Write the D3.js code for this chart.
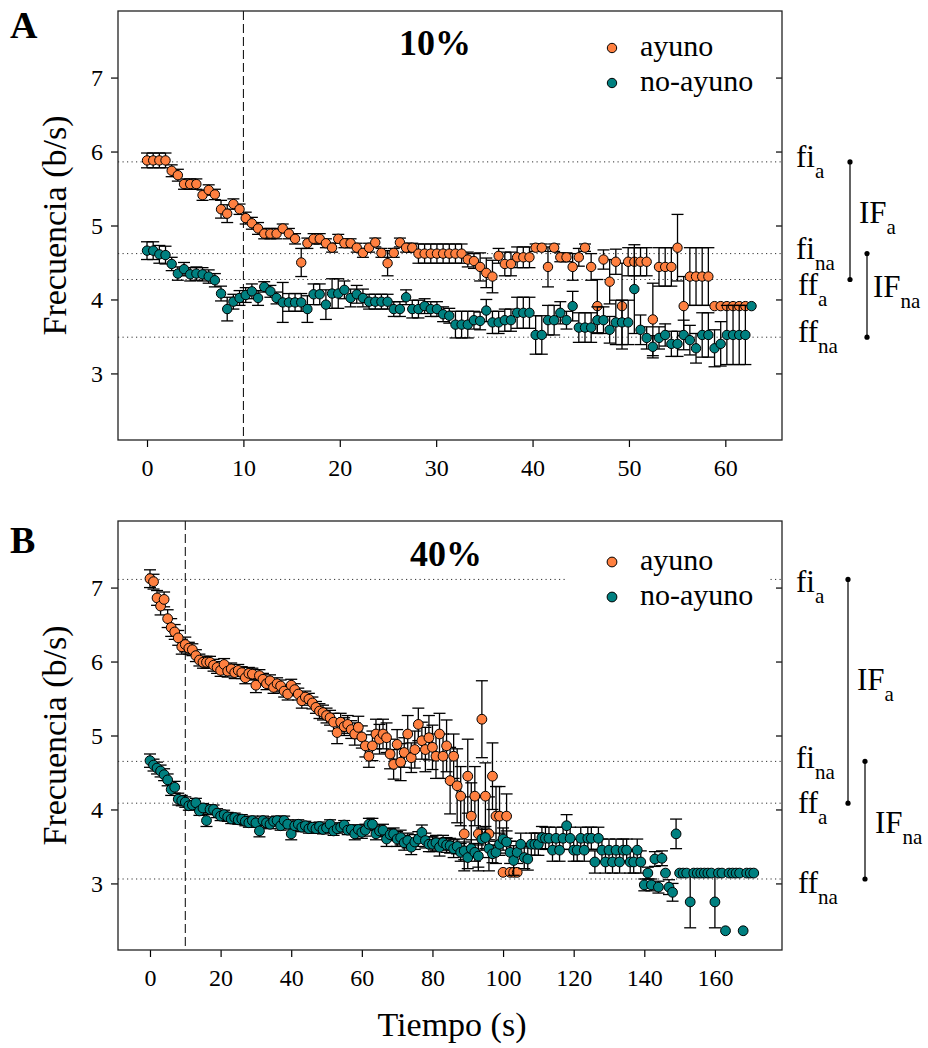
<!DOCTYPE html>
<html>
<head>
<meta charset="utf-8">
<script src="https://cdn.jsdelivr.net/npm/d3@7"></script>
<style>
body { margin: 0; background: #fff; }
text { font-family: "Liberation Serif", "Times New Roman", Times, serif; }
</style>
</head>
<body>
<svg id="chart" width="928" height="1048"></svg>
<script>
// time step between samples (s)
const stepA = 0.64
const stepB = 1

const yTicks = [3, 4, 5, 6, 7]
const xTicksA = [0, 10, 20, 30, 40, 50, 60]
const xTicksB = [0, 20, 40, 60, 80, 100, 120, 140, 160]
const series = ['ayuno', 'no-ayuno']
const titles = ['10%', '40%']
const letters = ['A', 'B']
const refNames = ['fi', 'fi', 'ff', 'ff']
const refSubs = ['a', 'na', 'a', 'na']
const refA = [5.86, 4.62, 4.27, 3.49]
const refB = [7.11, 4.65, 4.085, 3.06]

// panel A (10%)
const ayunoA = [5.88, 5.88, 5.88, 5.88, 5.74, 5.68, 5.56, 5.56, 5.56, 5.41,
    5.48, 5.42, 5.22, 5.16, 5.29, 5.22, 5.10, 5.03, 4.96, 4.89,
    4.89, 4.89, 4.96, 4.89, 4.82, 4.50, 4.76, 4.82, 4.82, 4.76,
    4.70, 4.82, 4.76, 4.76, 4.70, 4.63, 4.70, 4.77, 4.63, 4.49,
    4.63, 4.77, 4.70, 4.70, 4.62, 4.62, 4.62, 4.62, 4.62, 4.62,
    4.62, 4.62, 4.54, 4.52, 4.44, 4.36, 4.31, 4.59, 4.48, 4.48,
    4.57, 4.57, 4.57, 4.70, 4.70, 4.44, 4.70, 4.57, 4.57, 4.44,
    4.57, 4.70, 4.44, 3.91, 4.54, 4.24, 4.51, 3.91, 4.51, 4.51,
    4.51, 4.51, 3.73, 4.44, 4.44, 4.44, 4.70, 3.91, 4.31, 4.31,
    4.31, 4.31, 3.91, 3.91, 3.91, 3.91, 3.91, 3.91]
const ayunoAErr = [0.10, 0.10, 0.10, 0.10, 0.08, 0.08, 0.07, 0.07, 0.07, 0.07,
    0.07, 0.07, 0.12, 0.12, 0.07, 0.07, 0.08, 0.08, 0.08, 0.07,
    0.07, 0.07, 0.06, 0.07, 0.07, 0.19, 0.07, 0.07, 0.07, 0.06,
    0.06, 0.06, 0.06, 0.06, 0.06, 0.06, 0.06, 0.06, 0.06, 0.17,
    0.06, 0.06, 0.06, 0.06, 0.13, 0.13, 0.13, 0.13, 0.13, 0.13,
    0.13, 0.13, 0.10, 0.10, 0.19, 0.20, 0.22, 0.10, 0.16, 0.16,
    0.14, 0.14, 0.14, 0.05, 0.05, 0.27, 0.05, 0.06, 0.06, 0.18,
    0.12, 0.05, 0.18, 0.36, 0.13, 0.30, 0.17, 0.58, 0.19, 0.19,
    0.19, 0.19, 0.49, 0.26, 0.26, 0.26, 0.45, 0.40, 0.39, 0.39,
    0.39, 0.39, 0, 0, 0, 0, 0, 0]
const noAyunoA = [4.66, 4.66, 4.61, 4.60, 4.48, 4.35, 4.41, 4.34, 4.35, 4.34,
    4.31, 4.26, 4.08, 3.87, 3.97, 4.02, 4.06, 4.11, 4.02, 4.17,
    4.11, 4.02, 3.96, 3.96, 3.96, 3.96, 3.87, 4.07, 4.07, 3.93,
    4.08, 4.08, 4.13, 4.02, 4.07, 4.02, 3.97, 3.97, 3.97, 3.97,
    3.87, 3.87, 4.03, 3.87, 3.87, 3.91, 3.87, 3.87, 3.80, 3.78,
    3.66, 3.66, 3.66, 3.72, 3.71, 3.85, 3.69, 3.69, 3.72, 3.72,
    3.82, 3.82, 3.82, 3.52, 3.52, 3.72, 3.72, 3.82, 3.72, 3.91,
    3.62, 3.62, 3.62, 3.72, 3.72, 3.59, 3.69, 3.69, 3.69, 4.14,
    3.59, 3.48, 3.36, 3.48, 3.52, 3.40, 3.40, 3.52, 3.45, 3.34,
    3.52, 3.52, 3.34, 3.40, 3.52, 3.52, 3.52, 3.52, 3.91]
const noAyunoAErr = [0.12, 0.12, 0.12, 0.12, 0.09, 0.09, 0.09, 0.09, 0.09, 0.09,
    0.09, 0.09, 0.10, 0.16, 0.10, 0.10, 0.10, 0.10, 0.10, 0.07,
    0.08, 0.08, 0.27, 0.12, 0.12, 0.12, 0.18, 0.14, 0.14, 0.20,
    0.20, 0.20, 0.12, 0.12, 0.12, 0.12, 0.10, 0.10, 0.10, 0.10,
    0.10, 0.10, 0.10, 0.12, 0.12, 0.10, 0.10, 0.10, 0.10, 0.10,
    0.18, 0.18, 0.18, 0.12, 0.12, 0.15, 0.15, 0.15, 0.15, 0.15,
    0.21, 0.21, 0.21, 0.26, 0.26, 0.20, 0.20, 0.15, 0.12, 0.20,
    0.20, 0.20, 0.20, 0.18, 0.18, 0.18, 0.30, 0.30, 0.30, 0.60,
    0.20, 0.15, 0.15, 0.15, 0.15, 0.17, 0.17, 0.20, 0.20, 0.20,
    0.30, 0.30, 0.25, 0.30, 0.40, 0.40, 0.40, 0.40, 0]

// panel B (40%)
const ayunoB = [7.12, 7.08, 6.86, 6.75, 6.84, 6.58, 6.46, 6.40, 6.32, 6.20,
    6.23, 6.18, 6.16, 6.08, 6.02, 5.99, 5.99, 5.99, 5.95, 5.92,
    5.88, 5.96, 5.87, 5.90, 5.85, 5.88, 5.85, 5.78, 5.84, 5.83,
    5.68, 5.81, 5.76, 5.70, 5.74, 5.65, 5.70, 5.67, 5.60, 5.56,
    5.68, 5.62, 5.56, 5.47, 5.52, 5.49, 5.44, 5.38, 5.33, 5.31,
    5.27, 5.24, 5.18, 5.04, 5.18, 5.12, 5.15, 5.08, 5.02, 5.11,
    4.98, 4.86, 4.72, 4.86, 5.02, 4.95, 5.02, 4.97, 4.75, 4.61,
    4.88, 4.64, 4.77, 5.02, 4.70, 4.81, 5.15, 4.93, 4.81, 4.97,
    4.84, 4.72, 5.02, 4.72, 4.86, 4.39, 4.72, 4.32, 4.18, 3.67,
    4.45, 3.91, 4.18, 3.67, 5.22, 4.18, 3.67, 4.45, 3.91, 3.91,
    3.15, 3.91, 3.15, 3.15, 3.15]
const ayunoBErr = [0.12, 0.10, 0.10, 0.12, 0.10, 0.12, 0.12, 0.10, 0.10, 0.10,
    0.10, 0.08, 0.08, 0.08, 0.08, 0.08, 0.08, 0.08, 0.08, 0.08,
    0.08, 0.08, 0.08, 0.08, 0.08, 0.08, 0.08, 0.08, 0.08, 0.08,
    0.10, 0.08, 0.08, 0.08, 0.08, 0.08, 0.08, 0.08, 0.08, 0.08,
    0.08, 0.08, 0.08, 0.10, 0.08, 0.08, 0.08, 0.08, 0.10, 0.10,
    0.10, 0.10, 0.12, 0.15, 0.12, 0.12, 0.12, 0.12, 0.15, 0.15,
    0.15, 0.15, 0.15, 0.20, 0.20, 0.20, 0.20, 0.20, 0.20, 0.20,
    0.20, 0.25, 0.20, 0.25, 0.20, 0.25, 0.22, 0.25, 0.30, 0.30,
    0.30, 0.30, 0.28, 0.30, 0.35, 0.45, 0.30, 0.50, 0.40, 0.50,
    0.50, 0.45, 0.40, 0.50, 0.52, 0.45, 0.50, 0.45, 0.40, 0.40,
    0, 0.30, 0, 0, 0]
const noAyunoB = [4.66, 4.60, 4.56, 4.52, 4.47, 4.40, 4.27, 4.30, 4.14, 4.12,
    4.10, 4.05, 4.06, 4.09, 3.98, 4.02, 3.85, 4.00, 4.00, 3.95,
    3.91, 3.93, 3.90, 3.87, 3.89, 3.86, 3.87, 3.84, 3.82, 3.85,
    3.82, 3.71, 3.85, 3.82, 3.80, 3.84, 3.85, 3.78, 3.85, 3.80,
    3.67, 3.78, 3.80, 3.76, 3.78, 3.74, 3.76, 3.74, 3.77, 3.73,
    3.75, 3.80, 3.71, 3.74, 3.76, 3.79, 3.72, 3.73, 3.67, 3.73,
    3.69, 3.72, 3.80, 3.80, 3.67, 3.71, 3.72, 3.60, 3.66, 3.67,
    3.60, 3.62, 3.55, 3.58, 3.49, 3.56, 3.60, 3.69, 3.58, 3.53,
    3.53, 3.55, 3.49, 3.55, 3.52, 3.51, 3.47, 3.50, 3.42, 3.44,
    3.35, 3.47, 3.42, 3.37, 3.60, 3.62, 3.47, 3.40, 3.42, 3.53,
    3.60, 3.56, 3.42, 3.31, 3.42, 3.53, 3.35, 3.33, 3.53, 3.53,
    3.53, 3.62, 3.61, 3.61, 3.45, 3.61, 3.45, 3.61, 3.78, 3.61,
    3.45, 3.45, 3.61, 3.45, 3.61, 3.61, 3.29, 3.61, 3.45, 3.29,
    3.45, 3.29, 3.45, 3.29, 3.45, 3.45, 3.29, 3.29, 3.45, 3.29,
    2.98, 3.14, 2.98, 3.33, 2.95, 3.34, 3.14, 2.95, 2.88, 3.67,
    3.14, 3.14, 3.14, 2.75, 3.14, 3.14, 3.14, 3.14, 3.14, 3.14,
    2.75, 3.14, 3.14, 2.36, 3.14, 3.14, 3.14, 3.14, 2.36, 3.14,
    3.14, 3.14]
const noAyunoBErr = [0.09, 0.08, 0.08, 0.08, 0.08, 0.08, 0.08, 0.08, 0.08, 0.07,
    0.07, 0.06, 0.06, 0.06, 0.06, 0.06, 0.08, 0.06, 0.06, 0.06,
    0.06, 0.06, 0.06, 0.06, 0.06, 0.06, 0.06, 0.06, 0.06, 0.06,
    0.06, 0.08, 0.06, 0.06, 0.06, 0.06, 0.06, 0.06, 0.06, 0.06,
    0.08, 0.06, 0.06, 0.06, 0.06, 0.06, 0.06, 0.06, 0.06, 0.06,
    0.06, 0.06, 0.06, 0.06, 0.06, 0.06, 0.06, 0.06, 0.08, 0.06,
    0.08, 0.08, 0.08, 0.08, 0.08, 0.08, 0.08, 0.10, 0.08, 0.08,
    0.10, 0.10, 0.10, 0.10, 0.10, 0.10, 0.10, 0.10, 0.10, 0.10,
    0.10, 0.10, 0.12, 0.10, 0.10, 0.10, 0.12, 0.10, 0.12, 0.12,
    0.15, 0.12, 0.12, 0.15, 0.15, 0.15, 0.12, 0.12, 0.15, 0.15,
    0.15, 0.15, 0.15, 0.20, 0.15, 0.15, 0.15, 0.15, 0.15, 0.15,
    0.15, 0.15, 0.15, 0.15, 0.15, 0.15, 0.15, 0.15, 0.15, 0.15,
    0.15, 0.15, 0.15, 0.15, 0.15, 0.15, 0.15, 0.15, 0.15, 0.15,
    0.15, 0.15, 0.15, 0.15, 0.15, 0.15, 0.15, 0.15, 0.15, 0.15,
    0.08, 0.08, 0.08, 0.10, 0.08, 0.10, 0, 0.10, 0.12, 0.20,
    0, 0, 0, 0.35, 0, 0, 0, 0, 0, 0,
    0.35, 0, 0, 0, 0, 0, 0, 0, 0, 0,
    0, 0]

const SVG = d3.select('#chart')
const Left = 118
const Right = 782
const colors = ['#ff8040', '#008080']
const font = '"Liberation Serif", "Times New Roman", Times, serif'

const panels = [
    {
        top: 11, bottom: 440, xDomain: [-3.01, 65.88], xTicks: xTicksA, step: stepA,
        vals: [ayunoA, noAyunoA], errs: [ayunoAErr, noAyunoAErr], refs: refA, r: 4.7,
        legendY: 37, titleX: 435, titleY: 44, letterY: 38,
        labelDy: [5, 5, 15.5, 4.5], brX: [850, 867], ifDy: [2.6, 1.3], ifX: [859, 873],
        legendBox: false
    },
    {
        top: 521, bottom: 950, xDomain: [-9.06, 179.0], xTicks: xTicksB, step: stepB,
        vals: [ayunoB, noAyunoB], errs: [ayunoBErr, noAyunoBErr], refs: refB, r: 4.9,
        legendY: 41, titleX: 446, titleY: 45, letterY: 553,
        labelDy: [13, 7, 10, 14], brX: [848, 865], ifDy: [-1, 13], ifX: [857, 875],
        legendBox: true
    }
]

panels.forEach((p, n) => {
    const x = d3.scaleLinear().domain(p.xDomain).range([Left, Right])
    const y = d3.scaleLinear().domain([2.1, 7.9]).range([p.bottom, p.top])
    const g = SVG.append('g')

    // reference dotted lines
    p.refs.forEach(v => {
        g.append('line')
            .attr('x1', Left).attr('x2', Right)
            .attr('y1', y(v)).attr('y2', y(v))
            .attr('stroke', '#333').attr('stroke-width', 1)
            .attr('stroke-dasharray', '1.2,3.3')
    })

    // vertical dashed line at 10 s
    g.append('line')
        .attr('x1', x(10)).attr('x2', x(10))
        .attr('y1', p.top).attr('y2', p.bottom)
        .attr('stroke', '#000').attr('stroke-width', 1)
        .attr('stroke-dasharray', '9,4')

    // legend (white box hides dotted line behind it)
    const ly = p.top + p.legendY
    if (p.legendBox) {
        g.append('rect').attr('x', 566).attr('y', ly - 20).attr('width', 204).attr('height', 58)
            .attr('fill', '#fff')
    }
    series.forEach((s, k) => {
        g.append('circle').attr('cx', 612).attr('cy', ly + k * 35).attr('r', p.r)
            .attr('fill', colors[k]).attr('stroke', '#000').attr('stroke-width', 1)
        g.append('text').text(s).attr('x', 640).attr('y', ly + k * 35 + 8)
            .style('font-size', '30px')
    })

    // axes
    const left = g.append('g').attr('transform', `translate(${Left},0)`)
        .call(d3.axisLeft(y).tickValues(yTicks).tickSize(7).tickPadding(8).tickFormat(d3.format('d')))
    const right = g.append('g').attr('transform', `translate(${Right},0)`)
        .call(d3.axisLeft(y).tickValues(yTicks).tickSize(6).tickFormat(''))
    const bottom = g.append('g').attr('transform', `translate(0,${p.bottom})`)
        .call(d3.axisBottom(x).tickValues(p.xTicks).tickSize(7).tickPadding(12).tickFormat(d3.format('d')))
    ;[left, right, bottom].forEach(a => {
        a.select('.domain').remove()
        a.selectAll('line').attr('stroke', '#000').attr('stroke-width', 1.2)
        a.selectAll('text').style('font-family', font).style('font-size', '24px').attr('fill', '#000')
    })

    // data: error bars then symbols, ayuno first
    p.vals.forEach((vals, k) => {
        const pts = vals.map((v, i) => ({ t: i * p.step, v: v, e: p.errs[k][i] }))
        const eb = g.append('g').attr('stroke', '#000').attr('stroke-width', 1.3)
        pts.filter(d => d.e > 0).forEach(d => {
            eb.append('line').attr('x1', x(d.t)).attr('x2', x(d.t))
                .attr('y1', y(d.v - d.e)).attr('y2', y(d.v + d.e))
            eb.append('line').attr('x1', x(d.t) - 6).attr('x2', x(d.t) + 6)
                .attr('y1', y(d.v + d.e)).attr('y2', y(d.v + d.e))
            eb.append('line').attr('x1', x(d.t) - 6).attr('x2', x(d.t) + 6)
                .attr('y1', y(d.v - d.e)).attr('y2', y(d.v - d.e))
        })
        g.append('g').selectAll('circle').data(pts).join('circle')
            .attr('cx', d => x(d.t)).attr('cy', d => y(d.v)).attr('r', p.r)
            .attr('fill', colors[k]).attr('stroke', '#000').attr('stroke-width', 1)
    })

    // frame
    g.append('rect').attr('x', Left).attr('y', p.top)
        .attr('width', Right - Left).attr('height', p.bottom - p.top)
        .attr('fill', 'none').attr('stroke', '#222').attr('stroke-width', 1.3)

    // title and panel letter
    g.append('text').text(titles[n]).attr('x', p.titleX).attr('y', p.top + p.titleY)
        .style('text-anchor', 'middle').style('font-size', '36px').attr('font-weight', 700)
    g.append('text').text(letters[n]).attr('x', 10).attr('y', p.letterY)
        .style('font-size', '38px').attr('font-weight', 700)

    // y label
    g.append('text').text('Frecuencia (b/s)')
        .attr('transform', `translate(66, ${(p.top + p.bottom) / 2}) rotate(-90)`)
        .style('text-anchor', 'middle').style('font-size', '34px')

    // right-hand annotations
    p.refs.forEach((v, i) => {
        const bx = refNames[i] == 'fi' ? 796 : 798
        const t = g.append('text').attr('x', bx).attr('y', y(v) + p.labelDy[i]).style('font-size', '31px')
        t.append('tspan').text(refNames[i])
        t.append('tspan').text(refSubs[i]).attr('dy', 11).style('font-size', '21px')
    })
    const pairs = [[0, 2], [1, 3]]
    const ifSubs = ['a', 'na']
    pairs.forEach((pr, j) => {
        const y1 = y(p.refs[pr[0]]), y2 = y(p.refs[pr[1]])
        g.append('line').attr('x1', p.brX[j]).attr('x2', p.brX[j]).attr('y1', y1).attr('y2', y2)
            .attr('stroke', '#222').attr('stroke-width', 1.4)
        ;[y1, y2].forEach(yy => g.append('circle').attr('cx', p.brX[j]).attr('cy', yy).attr('r', 2.6).attr('fill', '#000'))
        const t = g.append('text').attr('x', p.ifX[j]).attr('y', (y1 + y2) / 2 + p.ifDy[j]).style('font-size', '31px')
        t.append('tspan').text('IF')
        t.append('tspan').text(ifSubs[j]).attr('dy', 11).style('font-size', '21px')
    })
})

// shared x label
SVG.append('text').text('Tiempo (s)').attr('x', 452).attr('y', 1036)
    .style('text-anchor', 'middle').style('font-size', '34px')
</script>
</body>
</html>
